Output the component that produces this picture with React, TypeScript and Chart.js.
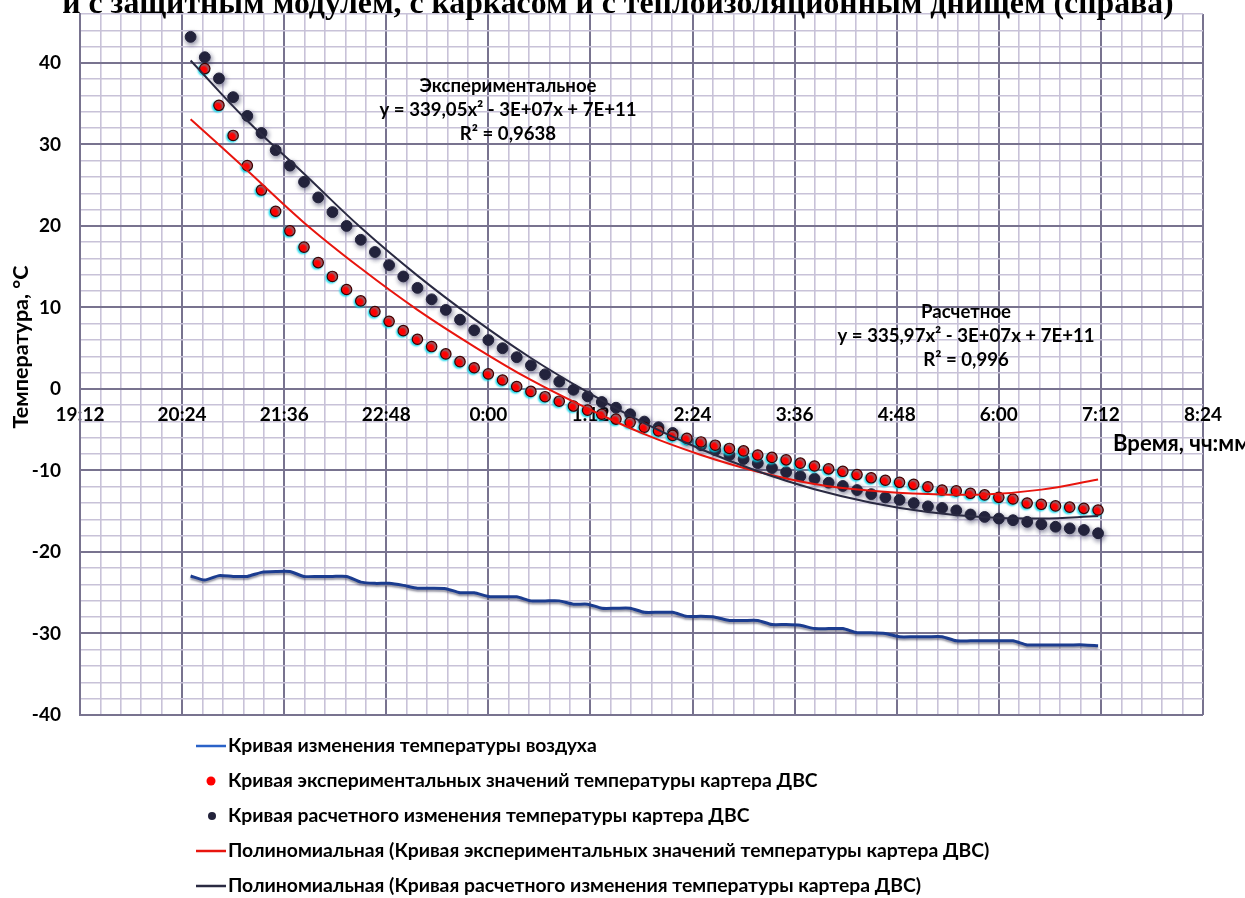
import React, { useEffect, useRef } from "react";
import { Chart, registerables } from "chart.js";

Chart.register(...registerables);

// ---------------- data ----------------
const times = [
  "20:30", "20:40", "20:50", "21:00", "21:10", "21:20", "21:30", "21:40", "21:50",
  "22:00", "22:10", "22:20", "22:30", "22:40", "22:50", "23:00", "23:10", "23:20",
  "23:30", "23:40", "23:50", "0:00", "0:10", "0:20", "0:30", "0:40", "0:50",
  "1:00", "1:10", "1:20", "1:30", "1:40", "1:50", "2:00", "2:10", "2:20",
  "2:30", "2:40", "2:50", "3:00", "3:10", "3:20", "3:30", "3:40", "3:50",
  "4:00", "4:10", "4:20", "4:30", "4:40", "4:50", "5:00", "5:10", "5:20",
  "5:30", "5:40", "5:50", "6:00", "6:10", "6:20", "6:30", "6:40", "6:50",
  "7:00", "7:10",
];

const airTemp = [
  -22.95, -23.45, -22.9, -23.0, -23.0, -22.5, -22.4, -22.4, -23.0, -23.0,
  -23.0, -23.0, -23.7, -23.85, -23.85, -24.1, -24.45, -24.45, -24.5, -25.0,
  -25.0, -25.45, -25.5, -25.5, -26.0, -26.0, -26.0, -26.4, -26.4, -26.9,
  -26.9, -26.9, -27.4, -27.4, -27.4, -27.9, -27.9, -28.0, -28.4, -28.4,
  -28.4, -28.9, -28.9, -29.0, -29.4, -29.4, -29.4, -29.9, -29.9, -30.0,
  -30.4, -30.4, -30.4, -30.4, -30.9, -30.9, -30.9, -30.9, -30.9, -31.4,
  -31.4, -31.4, -31.4, -31.4, -31.5,
];

const expPoints: (number | null)[] = [
  null, 39.3, 34.8, 31.1, 27.4, 24.4, 21.8, 19.4, 17.4, 15.5,
  13.8, 12.2, 10.8, 9.5, 8.3, 7.15, 6.1, 5.2, 4.3, 3.35,
  2.6, 1.85, 1.1, 0.3, -0.3, -0.95, -1.5, -2.1, -2.6, -3.1,
  -3.7, -4.1, -4.7, -5.15, -5.7, -6.05, -6.5, -6.9, -7.3, -7.6,
  -8.1, -8.4, -8.7, -9.1, -9.45, -9.8, -10.1, -10.5, -10.9, -11.2,
  -11.45, -11.7, -12.0, -12.4, -12.5, -12.8, -13.0, -13.3, -13.5, -14.0,
  -14.15, -14.35, -14.5, -14.65, -14.85,
];

const calcPoints = [
  43.2, 40.7, 38.1, 35.8, 33.5, 31.4, 29.3, 27.4, 25.4, 23.5,
  21.7, 20.0, 18.3, 16.8, 15.2, 13.8, 12.4, 11.0, 9.7, 8.5,
  7.2, 6.0, 5.0, 3.9, 2.9, 1.8, 0.9, -0.1, -0.9, -1.6,
  -2.3, -3.1, -4.0, -4.7, -5.4, -6.2, -6.9, -7.5, -8.1, -8.6,
  -9.1, -9.7, -10.2, -10.7, -11.0, -11.5, -11.9, -12.4, -12.9, -13.3,
  -13.6, -14.0, -14.4, -14.6, -14.9, -15.4, -15.7, -15.9, -16.1, -16.3,
  -16.6, -16.9, -17.1, -17.3, -17.7,
];

const trendTimes = [
  "20:30", "21:10", "21:50", "22:30", "23:10", "23:50", "0:30", "1:10", "1:50",
  "2:30", "3:10", "3:50", "4:30", "5:10", "5:50", "6:30", "7:10",
];
const expTrend = [
  33.1, 26.8, 20.4, 14.8, 9.7, 5.2, 1.1, -2.4, -5.55,
  -8.1, -10.15, -11.65, -12.5, -12.9, -12.95, -12.35, -11.1,
];
const calcTrend = [
  40.3, 32.9, 26.4, 19.8, 13.9, 8.6, 3.8, -0.4, -4.2,
  -7.4, -10.1, -12.3, -13.95, -15.1, -15.75, -15.9, -15.6,
];

const xTickLabels = [
  "19:12", "20:24", "21:36", "22:48", "0:00", "1:12",
  "2:24", "3:36", "4:48", "6:00", "7:12", "8:24",
];

const seriesNames = [
  "Кривая изменения температуры воздуха",
  "Кривая экспериментальных значений температуры картера ДВС",
  "Кривая расчетного изменения температуры картера ДВС",
  "Полиномиальная (Кривая экспериментальных значений температуры картера ДВС)",
  "Полиномиальная (Кривая расчетного изменения температуры картера ДВС)",
];

const chartTitle = "и с защитным модулем, с каркасом и с теплоизоляционным днищем (справа)";
const yTitle = "Температура, °C";
const xTitle = "Время, чч:мм";
const expLabel = ["Экспериментальное", "y = 339,05x² - 3E+07x + 7E+11", "R² = 0,9638"];
const calcLabel = ["Расчетное", "y = 335,97x² - 3E+07x + 7E+11", "R² = 0,996"];

// ---------------- helpers ----------------
// x unit: 1/100 of a day (14.4 minutes), like Excel's minor unit 0.01
const toX = (t: string) => {
  const [h, m] = t.split(":").map(Number);
  const hh = h < 12 ? h + 24 : h;
  return (hh * 60 + m) / 14.4;
};

const MAJOR = "#78738f";
const MINOR = "#c8c2d8";
const FONT = 'Lato, "Open Sans", sans-serif';
const SERIF = '"Liberation Serif", "Times New Roman", serif';

const pts = (ts: string[], vs: (number | null)[]) =>
  ts
    .map((t, i) => ({ x: toX(t), y: vs[i] }))
    .filter((p) => p.y !== null && p.y !== undefined);

// font size that makes `text` span `target` px
const fitFont = (ctx: CanvasRenderingContext2D, text: string, target: number, weight: string, family: string) => {
  ctx.font = `${weight} 100px ${family}`;
  const w = ctx.measureText(text).width;
  const size = (100 * target) / w;
  return `${weight} ${size.toFixed(2)}px ${family}`;
};

const shadowPlugin = {
  id: "dsShadow",
  beforeDatasetDraw(chart: any, args: any) {
    const s = chart.data.datasets[args.index].shadow;
    if (!s) return;
    const ctx = chart.ctx;
    ctx.save();
    ctx.shadowColor = s.color;
    ctx.shadowBlur = s.blur;
    ctx.shadowOffsetX = s.x;
    ctx.shadowOffsetY = s.y;
  },
  afterDatasetDraw(chart: any, args: any) {
    const s = chart.data.datasets[args.index].shadow;
    if (!s) return;
    chart.ctx.restore();
  },
};

const textPlugin = {
  id: "texts",
  afterDraw(chart: any) {
    const ctx = chart.ctx as CanvasRenderingContext2D;
    ctx.save();
    ctx.fillStyle = "#000";

    // page title (cut at the top)
    ctx.font = fitFont(ctx, chartTitle, 1112, "bold", SERIF);
    ctx.textAlign = "center";
    ctx.textBaseline = "alphabetic";
    ctx.fillText(chartTitle, 618, 13);

    // y axis title
    ctx.save();
    ctx.translate(21, 347);
    ctx.rotate(-Math.PI / 2);
    ctx.font = fitFont(ctx, yTitle, 163, "bold", FONT);
    ctx.textAlign = "center";
    ctx.textBaseline = "middle";
    ctx.fillText(yTitle, 0, 0);
    ctx.restore();

    // x axis title
    ctx.font = fitFont(ctx, xTitle, 137, "bold", FONT);
    ctx.textAlign = "left";
    ctx.textBaseline = "middle";
    ctx.fillText(xTitle, 1113, 444);

    // trendline labels
    ctx.font = fitFont(ctx, expLabel[1], 257, "bold", FONT);
    ctx.textAlign = "center";
    expLabel.forEach((l, i) => ctx.fillText(l, 508, 86 + i * 24));
    calcLabel.forEach((l, i) => ctx.fillText(l, 966, 312 + i * 24));

    // legend
    const ds = chart.data.datasets;
    const rows = [746, 781, 816, 851, 886];
    ctx.font = fitFont(ctx, seriesNames[3], 762, "bold", FONT);
    ctx.textAlign = "left";
    ctx.textBaseline = "middle";
    rows.forEach((y, i) => {
      const d = ds[i];
      if (d.showLine) {
        ctx.strokeStyle = d.legendColor || d.borderColor;
        ctx.lineWidth = 2.5;
        ctx.beginPath();
        ctx.moveTo(196, y);
        ctx.lineTo(226, y);
        ctx.stroke();
      } else {
        ctx.fillStyle = d.backgroundColor;
        ctx.beginPath();
        ctx.arc(i === 1 ? 211 : 212, y, i === 1 ? 4.5 : 4, 0, Math.PI * 2);
        ctx.fill();
      }
      ctx.fillStyle = "#000";
      ctx.fillText(seriesNames[i], 228, y);
    });
    ctx.restore();
  },
};

export default function App() {
  const ref = useRef<HTMLCanvasElement>(null);

  useEffect(() => {
    if (!ref.current) return;
    const chart = new Chart(ref.current, {
      type: "scatter",
      data: {
        datasets: [
          {
            label: seriesNames[0],
            data: pts(times, airTemp),
            showLine: true,
            borderColor: "#1b3c8f",
            legendColor: "#2a62c8",
            borderWidth: 3,
            pointRadius: 0,
            tension: 0.2,
            order: 4,
            shadow: { color: "rgba(60,60,85,0.55)", blur: 2, x: 0, y: 2 },
          } as any,
          {
            label: seriesNames[1],
            data: pts(times, expPoints),
            showLine: false,
            backgroundColor: "#ff0000",
            borderColor: "#3a0000",
            borderWidth: 1.2,
            pointRadius: 5.2,
            order: 2,
            shadow: { color: "rgba(0,215,235,0.9)", blur: 2, x: -1.2, y: 1.2 },
          } as any,
          {
            label: seriesNames[2],
            data: pts(times, calcPoints),
            showLine: false,
            backgroundColor: "#23233b",
            borderColor: "#23233b",
            borderWidth: 1,
            pointRadius: 5.4,
            order: 3,
            shadow: { color: "rgba(40,40,80,0.6)", blur: 5, x: 1, y: 2 },
          } as any,
          {
            label: seriesNames[3],
            data: pts(trendTimes, expTrend),
            showLine: true,
            borderColor: "#e8150e",
            borderWidth: 2,
            pointRadius: 0,
            tension: 0.4,
            order: 1,
          } as any,
          {
            label: seriesNames[4],
            data: pts(trendTimes, calcTrend),
            showLine: true,
            borderColor: "#2a2a42",
            borderWidth: 2,
            pointRadius: 0,
            tension: 0.4,
            order: 0,
          } as any,
        ],
      },
      options: {
        responsive: false,
        devicePixelRatio: 1,
        animation: false,
        events: [],
        layout: { padding: { top: 14, right: 42, bottom: 183, left: 0 } },
        plugins: {
          legend: { display: false },
          tooltip: { enabled: false },
          title: { display: false },
        },
        scales: {
          x: {
            type: "linear",
            position: { y: 0 } as any,
            min: 80,
            max: 135,
            afterFit: (s: any) => {
              s.height = 0;
              s.paddingLeft = 0;
              s.paddingRight = 0;
            },
            ticks: {
              stepSize: 1,
              autoSkip: false,
              maxRotation: 0,
              padding: 15,
              color: "#000",
              font: { family: FONT, size: 19, weight: "bold" },
              callback: (v: any) => {
                const k = Math.round(Number(v));
                return k % 5 === 0 ? xTickLabels[(k - 80) / 5] : "";
              },
            },
            grid: {
              drawTicks: false,
              color: (c: any) => (Math.round(c.tick.value) % 5 === 0 ? MAJOR : MINOR),
              lineWidth: (c: any) => (Math.round(c.tick.value) % 5 === 0 ? 2 : 1.6),
            },
            border: { display: true, color: MAJOR, width: 2 },
          },
          y: {
            type: "linear",
            min: -40,
            max: 46,
            afterFit: (s: any) => {
              s.width = 80;
              s.paddingTop = 0;
              s.paddingBottom = 0;
            },
            ticks: {
              stepSize: 2,
              autoSkip: false,
              padding: 19,
              color: "#000",
              font: { family: FONT, size: 19, weight: "bold" },
              callback: (v: any) => (Number(v) % 10 === 0 ? String(v) : ""),
            },
            grid: {
              drawTicks: false,
              color: (c: any) => (c.tick.value % 10 === 0 ? MAJOR : MINOR),
              lineWidth: (c: any) => (c.tick.value % 10 === 0 ? 2 : 1.6),
            },
            border: { display: true, color: MAJOR, width: 2 },
          },
        },
      },
      plugins: [shadowPlugin, textPlugin],
    } as any);
    return () => chart.destroy();
  }, []);

  return (
    <div
      style={{
        position: "fixed",
        left: 0,
        top: 0,
        width: 1245,
        height: 898,
        background: "#fff",
        overflow: "hidden",
      }}
    >
      <canvas ref={ref} width={1245} height={898} style={{ display: "block" }} />
    </div>
  );
}
